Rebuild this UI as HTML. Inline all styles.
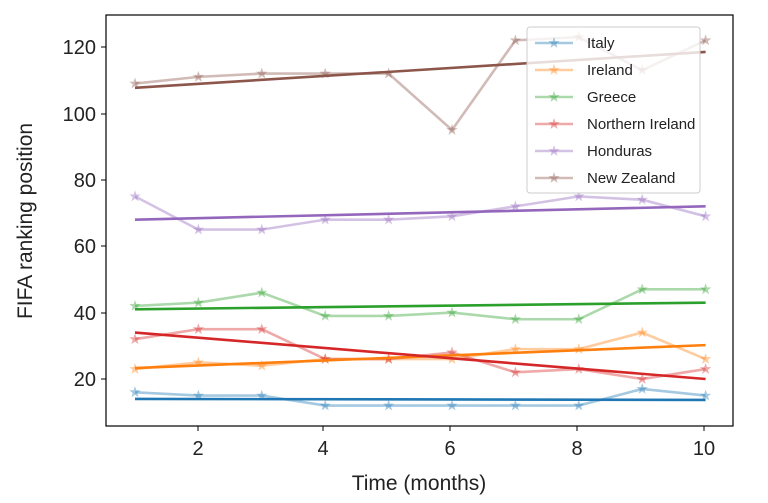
<!DOCTYPE html>
<html><head><meta charset="utf-8"><style>
body{margin:0;background:#fff;}
svg{display:block;font-family:"Liberation Sans","DejaVu Sans",sans-serif;}
</style></head><body>
<svg width="768" height="503" xmlns="http://www.w3.org/2000/svg">
<rect width="768" height="503" fill="#fff"/>
<g id="plot"></g>
<rect x="106" y="15" width="627" height="411" fill="none" stroke="#000" stroke-width="1.2"/>
<g font-size="20" fill="#222" text-anchor="middle">
<text x="198" y="455">2</text><text x="323" y="455">4</text><text x="450" y="455">6</text><text x="577" y="455">8</text><text x="704" y="455">10</text>
<text x="419" y="490" font-size="21">Time (months)</text>
</g>
<g stroke="#000" stroke-width="1">
<line x1="198" y1="426" x2="198" y2="431"/><line x1="323" y1="426" x2="323" y2="431"/><line x1="450" y1="426" x2="450" y2="431"/><line x1="577" y1="426" x2="577" y2="431"/><line x1="704" y1="426" x2="704" y2="431"/>
<line x1="101" y1="379" x2="106" y2="379"/><line x1="101" y1="313" x2="106" y2="313"/><line x1="101" y1="246" x2="106" y2="246"/><line x1="101" y1="180" x2="106" y2="180"/><line x1="101" y1="114" x2="106" y2="114"/><line x1="101" y1="47" x2="106" y2="47"/>
</g>
<g font-size="20" fill="#222" text-anchor="end">
<text x="96" y="386">20</text><text x="96" y="320">40</text><text x="96" y="253">60</text><text x="96" y="187">80</text><text x="96" y="121">100</text><text x="96" y="54">120</text>
</g>
<text transform="translate(32,221) rotate(-90)" font-size="21" fill="#222" text-anchor="middle">FIFA ranking position</text>
</svg>
<script>
const X=i=>135+(i-1)*63.4, Y=v=>379-(v-20)*3.32;
const S=[
["Italy","#1f77b4",[16,15,15,12,12,12,12,12,17,15],[14,13.7]],
["Ireland","#ff7f0e",[23,25,24,26,26,26,29,29,34,26],[23.3,30.2]],
["Greece","#2ca02c",[42,43,46,39,39,40,38,38,47,47],[41,43]],
["Northern Ireland","#d62728",[32,35,35,26,26,28,22,23,20,23],[34,20]],
["Honduras","#9467bd",[75,65,65,68,68,69,72,75,74,69],[68,72]],
["New Zealand","#8c564b",[109,111,112,112,112,95,122,123,113,122],[107.7,118.5]]];
const ns="http://www.w3.org/2000/svg",g=document.getElementById("plot");
function el(t,a){const e=document.createElementNS(ns,t);for(const k in a)e.setAttribute(k,a[k]);g.appendChild(e);return e;}
function star(x,y,r){let p=[];for(let i=0;i<10;i++){const a=-Math.PI/2+i*Math.PI/5,rr=i%2?r*0.4:r;p.push((x+rr*Math.cos(a)).toFixed(1)+","+(y+rr*Math.sin(a)).toFixed(1));}return p.join(" ");}
S.forEach(s=>{
 el("polyline",{points:s[2].map((v,i)=>X(i+1)+","+Y(v)).join(" "),fill:"none",stroke:s[1],"stroke-width":2.6,"stroke-opacity":0.4});
 s[2].forEach((v,i)=>el("polygon",{points:star(X(i+1),Y(v),6),fill:s[1],"fill-opacity":0.4}));
});
S.forEach(s=>el("line",{x1:X(1),y1:Y(s[3][0]),x2:X(10),y2:Y(s[3][1]),stroke:s[1],"stroke-width":2.6}));
el("rect",{x:527,y:27,width:173,height:166,rx:3,fill:"#fff","fill-opacity":0.8,stroke:"#ccc"});
S.forEach((s,i)=>{const y=43+i*27;
 el("line",{x1:535,y1:y,x2:573,y2:y,stroke:s[1],"stroke-width":2.6,"stroke-opacity":0.4});
 el("polygon",{points:star(554,y,6),fill:s[1],"fill-opacity":0.4});
 const t=el("text",{x:587,y:y+5,"font-size":15,fill:"#222"});t.textContent=s[0];});
</script>
</body></html>
